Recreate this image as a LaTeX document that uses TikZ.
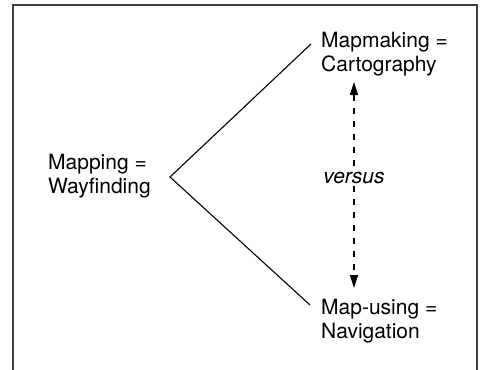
\documentclass[tikz,border=0pt]{standalone}
\usepackage{fontspec}
\setmainfont{TeX Gyre Heros}
\usetikzlibrary{arrows.meta}

\begin{document}
\begin{tikzpicture}[x=1pt,y=-1pt,
  lbl/.style={align=left,anchor=base west,inner sep=0pt,font=\fontsize{21}{24}\selectfont},
  arm/.style={line width=1.1pt},
  vs/.style={dashed,dash pattern=on 6pt off 7pt,line width=1.1pt,{Triangle[length=13pt,width=8pt]}-{Triangle[length=13pt,width=8pt]}}]
\useasboundingbox (0,0) rectangle (483,370);
\draw [line width=2pt,black!75] (13,370) -- (13,5) -- (477,5) -- (477,370);

\node [lbl] (mapping) at (48,193) {Mapping =\\Wayfinding};
\node [lbl] (mapmaking) at (321,71) {Mapmaking =\\Cartography};
\node [lbl] (mapusing) at (321,338) {Map-using =\\Navigation};

\coordinate (vtx) at (170,177);
\coordinate (up) at (311,44);
\coordinate (down) at (310,305);
\draw [arm] (up) -- (vtx) -- (down);

\coordinate (top) at (354,82);
\coordinate (bot) at (354,288);
\draw [vs] (top) -- (bot);
\node [anchor=base,inner sep=1pt,fill=white,font=\fontsize{21}{24}\selectfont\itshape] (versus) at (354,183) {versus};
\end{tikzpicture}
\end{document}
